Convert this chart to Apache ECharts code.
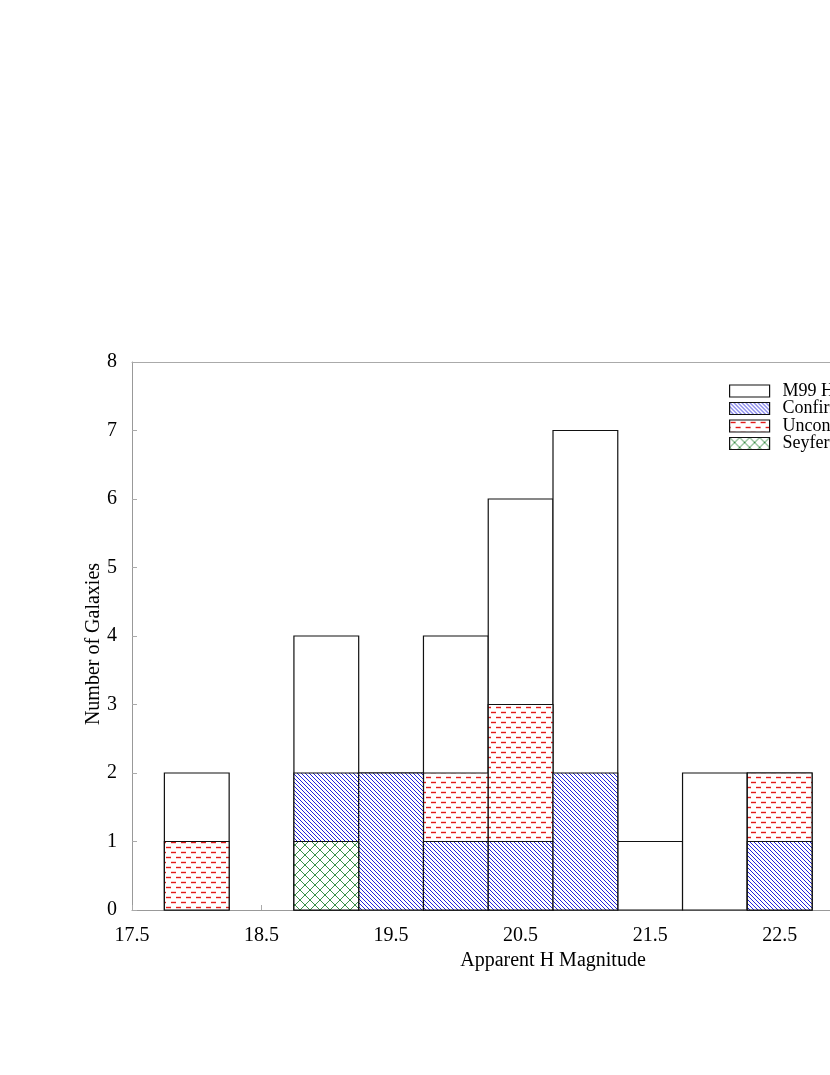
<!DOCTYPE html>
<html>
<head>
<meta charset="utf-8">
<script src="https://cdn.jsdelivr.net/npm/echarts@6/dist/echarts.min.js"></script>
<style>html,body{margin:0;padding:0;background:#fff;overflow:hidden;width:830px;height:1075px;}#c{width:1000px;height:1075px;}</style>
</head>
<body>
<div id="c"></div>
<script>
// ---- data ----
var binCenters = [18.0, 18.5, 19.0, 19.5, 20.0, 20.5, 21.0, 21.5, 22.0, 22.5];
var binWidth = 0.5;
var m99Hosts    = [2, 0, 4, 2, 4, 6, 7, 1, 2, 2];
var unconfirmed = [1, 0, 0, 0, 2, 3, 0, 0, 0, 2];
var confirmed   = [0, 0, 2, 2, 1, 1, 2, 0, 0, 1];
var seyferts    = [0, 0, 1, 0, 0, 0, 0, 0, 0, 0];
var seriesNames = ['M99 Hosts', 'Confirmed', 'Unconfirmed', 'Seyferts'];
var xTickLabels = [17.5, 18.5, 19.5, 20.5, 21.5, 22.5, 23.5];

// ---- patterns ----
function makeCanvas(w, h, draw) {
  var c = document.createElement('canvas');
  c.width = w; c.height = h;
  var ctx = c.getContext('2d');
  draw(ctx, w, h);
  return c;
}
var bluePat = makeCanvas(4, 4, function (ctx, w, h) {
  ctx.fillStyle = '#fff'; ctx.fillRect(0, 0, w, h);
  ctx.strokeStyle = '#2222dd'; ctx.lineWidth = 1.0;
  for (var k = -1; k <= 1; k++) {
    ctx.beginPath(); ctx.moveTo(k * w - 1, -1); ctx.lineTo(k * w + w + 1, h + 1); ctx.stroke();
  }
});
var redPat = makeCanvas(10, 10, function (ctx, w, h) {
  ctx.fillStyle = '#fff'; ctx.fillRect(0, 0, w, h);
  ctx.strokeStyle = '#e41a1a'; ctx.lineWidth = 1.4;
  function dash(x0, x1, y) { ctx.beginPath(); ctx.moveTo(x0, y); ctx.lineTo(x1, y); ctx.stroke(); }
  dash(1, 6, 2.5);
  dash(6, 11, 7.5); dash(-4, 1, 7.5);
});
var greenPat = makeCanvas(10, 10, function (ctx, w, h) {
  ctx.fillStyle = '#fff'; ctx.fillRect(0, 0, w, h);
  ctx.strokeStyle = '#3a9048'; ctx.lineWidth = 1;
  ctx.beginPath(); ctx.moveTo(0, 0); ctx.lineTo(w, h); ctx.stroke();
  ctx.beginPath(); ctx.moveTo(w, 0); ctx.lineTo(0, h); ctx.stroke();
});
var fills = {
  'M99 Hosts': '#ffffff',
  'Confirmed': { image: bluePat, repeat: 'repeat' },
  'Unconfirmed': { image: redPat, repeat: 'repeat' },
  'Seyferts': { image: greenPat, repeat: 'repeat' }
};

function toData(vals) {
  var out = [];
  for (var i = 0; i < binCenters.length; i++) {
    if (vals[i] > 0) out.push([binCenters[i] - binWidth / 2, binCenters[i] + binWidth / 2, vals[i]]);
  }
  return out;
}
function histSeries(name, vals, z) {
  return {
    name: name,
    type: 'custom',
    z: z,
    itemStyle: { color: fills[name], borderColor: '#000', borderWidth: 1 },
    data: toData(vals),
    encode: { x: [0, 1], y: 2 },
    renderItem: function (params, api) {
      var p0 = api.coord([api.value(0), 0]);
      var p1 = api.coord([api.value(1), api.value(2)]);
      return {
        type: 'rect',
        shape: { x: p0[0], y: p1[1], width: p1[0] - p0[0], height: p0[1] - p1[1] },
        style: { fill: fills[name], stroke: '#111', lineWidth: 1.2 }
      };
    }
  };
}

var font = 'Liberation Serif';
var fs = 20;
var chart = echarts.init(document.getElementById('c'), null, { renderer: 'canvas', width: 1000, height: 1075 });
chart.setOption({
  animation: false,
  backgroundColor: '#fff',
  grid: { left: 132, top: 362, right: 26, bottom: 165, containLabel: false },
  legend: {
    orient: 'vertical',
    left: 729, top: 382,
    padding: 0,
    itemWidth: 40, itemHeight: 12, itemGap: -0.5,
    icon: 'rect',
    textStyle: { fontFamily: font, fontSize: 18, color: '#000', padding: [0, 0, 0, 8] },
    data: seriesNames.map(function (n) {
      return { name: n, itemStyle: { color: fills[n], borderColor: '#111', borderWidth: 1.2 } };
    })
  },
  xAxis: [{
    type: 'value', min: 17.5, max: 24, interval: 0.5,
    name: 'Apparent H Magnitude', nameLocation: 'middle', nameGap: 37,
    nameTextStyle: { fontFamily: font, fontSize: fs, color: '#000' },
    axisLine: { show: true, lineStyle: { color: '#999', width: 1 } },
    axisTick: { show: true, inside: true, length: 5, lineStyle: { color: '#aaa' } },
    axisLabel: {
      fontFamily: font, fontSize: fs, color: '#000', margin: 16,
      formatter: function (v) {
        for (var i = 0; i < xTickLabels.length; i++) if (Math.abs(xTickLabels[i] - v) < 1e-6) return v.toFixed(1);
        return '';
      }
    },
    splitLine: { show: false }
  }, {
    type: 'value', min: 17.5, max: 24, position: 'top',
    axisLine: { show: true, onZero: false, lineStyle: { color: '#aaa', width: 1 } },
    axisTick: { show: false }, axisLabel: { show: false }, splitLine: { show: false }
  }],
  yAxis: {
    type: 'value', min: 0, max: 8, interval: 1,
    name: 'Number of Galaxies', nameLocation: 'middle', nameGap: 28, nameMoveOverlap: false,
    nameTextStyle: { fontFamily: font, fontSize: fs, color: '#000', padding: [0, 16, 0, 0] },
    axisLine: { show: true, lineStyle: { color: '#999', width: 1 } },
    axisTick: { show: true, inside: true, length: 5, lineStyle: { color: '#aaa' } },
    axisLabel: { fontFamily: font, fontSize: fs, color: '#000', margin: 15 },
    splitLine: { show: false }
  },
  series: [
    histSeries('M99 Hosts', m99Hosts, 2),
    histSeries('Unconfirmed', unconfirmed, 3),
    histSeries('Confirmed', confirmed, 4),
    histSeries('Seyferts', seyferts, 5)
  ]
});
</script>
</body>
</html>
